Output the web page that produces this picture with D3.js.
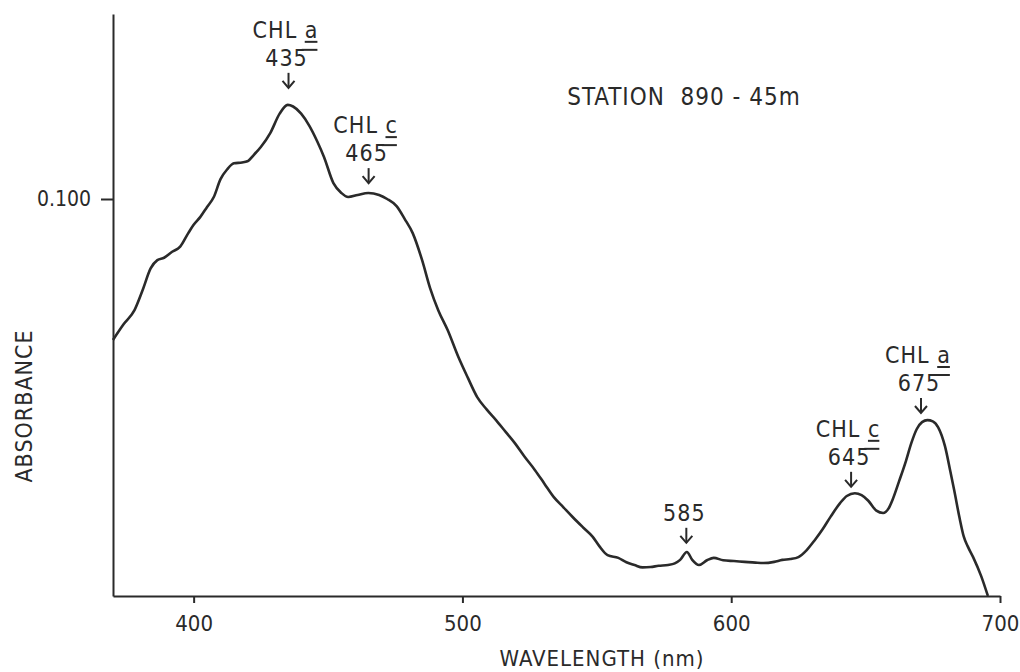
<!DOCTYPE html>
<html>
<head>
<meta charset="utf-8">
<script src="https://cdn.jsdelivr.net/npm/d3@7"></script>
<style>
  body { margin: 0; background: #fff; }
  svg text { font-family: "DejaVu Sans Condensed", "DejaVu Sans", sans-serif; font-stretch: condensed; fill: #2a2a2a; }
</style>
</head>
<body>
<div id="chart"></div>
<script>
// spectrum (wavelength nm, absorbance)
const wavelength = [370, 374, 378, 381, 384, 386.5, 389, 392, 395, 398, 400, 402.5, 405, 407.5, 410, 412.5,
  415, 418, 420, 422.5, 425, 428.5, 432, 435, 437, 440, 443, 446, 448.5, 452, 455, 457.5, 461, 465, 469, 472,
  475.5, 478.5, 481.5, 485, 488, 491, 494.5, 498.5, 502, 505.5, 509, 512.5, 516, 519.5, 523, 527, 530.5, 534,
  537.5, 541, 545, 548.5, 551, 554, 558, 561, 564, 567, 570, 573, 576.5, 579, 581, 583.5, 585.5, 588, 591,
  593.5, 597, 601, 605, 609, 612, 616, 619, 622, 625, 628, 631, 634, 637, 640.5, 643, 646, 648.5, 651, 654,
  656.5, 658.5, 660, 662.5, 665, 667, 669, 671, 673, 675, 677, 679.5, 681.5, 683, 685, 686.5, 688, 690, 693, 695.5];
const absorbance = [0.0645, 0.0685, 0.0720, 0.0770, 0.0825, 0.0846, 0.0852, 0.0867, 0.0880, 0.0914, 0.0935,
  0.0955, 0.0980, 0.1005, 0.1050, 0.1075, 0.1090, 0.1092, 0.1095, 0.1112, 0.1131, 0.1166, 0.1215, 0.1237,
  0.1233, 0.1215, 0.1185, 0.1145, 0.1106, 0.1040, 0.1015, 0.1005, 0.1010, 0.1015, 0.1010, 0.1000, 0.0982,
  0.0950, 0.0914, 0.0846, 0.0775, 0.0720, 0.0670, 0.0602, 0.0550, 0.0501, 0.0470, 0.0443, 0.0414, 0.0385,
  0.0352, 0.0317, 0.0283, 0.0249, 0.0224, 0.0199, 0.0172, 0.0149, 0.0125, 0.0103, 0.0096, 0.0085, 0.0078,
  0.0072, 0.0073, 0.0076, 0.0078, 0.0082, 0.0091, 0.0111, 0.0091, 0.0078, 0.0090, 0.0096, 0.0090, 0.0088,
  0.0086, 0.0084, 0.0083, 0.0086, 0.0091, 0.0093, 0.0098, 0.0115, 0.0140, 0.0168, 0.0200, 0.0234, 0.0252,
  0.0259, 0.0254, 0.0240, 0.0215, 0.0209, 0.0220, 0.0242, 0.0290, 0.0340, 0.0385, 0.0420, 0.0438, 0.0443,
  0.0440, 0.0425, 0.0378, 0.0315, 0.0265, 0.0195, 0.0150, 0.0125, 0.0098, 0.0050, 0.0000];

const xTicks = [400, 500, 600, 700];
const yTicks = [0.1];
const yTickLabels = ["0.100"];

// peak annotations: where the arrow points (wavelength, absorbance at arrow tip)
const annName = ["CHL a", "CHL c", "", "CHL c", "CHL a"];
const annNumber = ["435", "465", "585", "645", "675"];
const annWave = [435.3, 465.1, 583.3, 644.6, 670.6];
const annTip = [0.128, 0.104, 0.0134, 0.0275, 0.0461];

const title = "STATION  890 - 45m";
const xTitle = "WAVELENGTH (nm)";
const yTitle = "ABSORBANCE";

var width = 1020, height = 672;
var ink = "#2a2a2a";

var svg = d3.select("#chart")
  .append("svg")
    .attr("width", width)
    .attr("height", height);

var x = d3.scaleLinear()
  .domain([370, 700])
  .range([113, 1000]);

var y = d3.scaleLinear()
  .domain([0, 0.1466])
  .range([596, 14]);

// x axis
var xAxis = svg.append("g")
  .attr("transform", "translate(0," + y(0) + ")")
  .call(d3.axisBottom(x).tickValues(xTicks).tickSize(7).tickPadding(12).tickSizeOuter(0));
xAxis.select(".domain").attr("stroke", ink).attr("stroke-width", 2);
xAxis.selectAll(".tick line").attr("stroke", ink).attr("stroke-width", 2);
xAxis.selectAll(".tick text").style("font-size", "22px").attr("fill", ink);

// y axis
var yAxis = svg.append("g")
  .attr("transform", "translate(" + x(370) + ",0)")
  .call(d3.axisLeft(y).tickValues(yTicks).tickFormat((d, i) => yTickLabels[i])
    .tickSize(12).tickPadding(10).tickSizeOuter(0));
yAxis.select(".domain").attr("stroke", ink).attr("stroke-width", 2);
yAxis.selectAll(".tick line").attr("stroke", ink).attr("stroke-width", 2);
yAxis.selectAll(".tick text").style("font-size", "21px").attr("fill", ink);

// spectrum
var pts = wavelength.map((w, i) => [w, absorbance[i]]);
svg.append("path")
  .datum(pts)
  .attr("fill", "none")
  .attr("stroke", ink)
  .attr("stroke-width", 2.6)
  .attr("stroke-linejoin", "round")
  .attr("d", d3.line()
    .x(d => x(d[0]))
    .y(d => y(d[1]))
    .curve(d3.curveMonotoneX));

// annotations
annWave.forEach(function (w, i) {
  var ax = x(w), tip = y(annTip[i]);
  var g = svg.append("g");

  g.append("line")
    .attr("x1", ax).attr("x2", ax)
    .attr("y1", tip - 15).attr("y2", tip)
    .attr("stroke", ink).attr("stroke-width", 2);
  g.append("path")
    .attr("d", "M" + (ax - 6) + "," + (tip - 7) + "L" + ax + "," + tip + "L" + (ax + 6) + "," + (tip - 7))
    .attr("fill", "none").attr("stroke", ink).attr("stroke-width", 2);

  var num = g.append("text")
    .attr("x", ax - 2).attr("y", tip - 22)
    .attr("text-anchor", "middle")
    .style("font-size", "23px")
    .style("letter-spacing", "1px")
    .text(annNumber[i]);

  if (annName[i]) {
    var lab = g.append("text")
      .attr("x", ax - 3).attr("y", tip - 50)
      .attr("text-anchor", "middle")
      .style("font-size", "23px")
      .style("letter-spacing", "1px")
      .text(annName[i]);
    // underline the last letter, plus the short dash over the number
    var n = annName[i].length - 1;
    var e = lab.node().getExtentOfChar(n);
    var baseY = tip - 50;
    g.append("line")
      .attr("x1", e.x).attr("x2", e.x + e.width - 1)
      .attr("y1", baseY + 4).attr("y2", baseY + 4)
      .attr("stroke", ink).attr("stroke-width", 2);
    var ne = num.node().getExtentOfChar(annNumber[i].length - 1);
    g.append("line")
      .attr("x1", ne.x + ne.width - 6).attr("x2", e.x + e.width - 1)
      .attr("y1", tip - 38).attr("y2", tip - 38)
      .attr("stroke", ink).attr("stroke-width", 2);
  }
});

// titles
svg.append("text")
  .attr("x", 684).attr("y", 105)
  .attr("text-anchor", "middle")
  .style("font-size", "24px")
  .style("letter-spacing", "1px")
  .style("white-space", "pre")
  .text(title);

svg.append("text")
  .attr("x", 602).attr("y", 666)
  .attr("text-anchor", "middle")
  .style("font-size", "22px")
  .style("letter-spacing", "1px")
  .text(xTitle);

svg.append("text")
  .attr("transform", "translate(32,406) rotate(-90)")
  .attr("text-anchor", "middle")
  .style("font-size", "23px")
  .style("letter-spacing", "1px")
  .text(yTitle);
</script>
</body>
</html>
